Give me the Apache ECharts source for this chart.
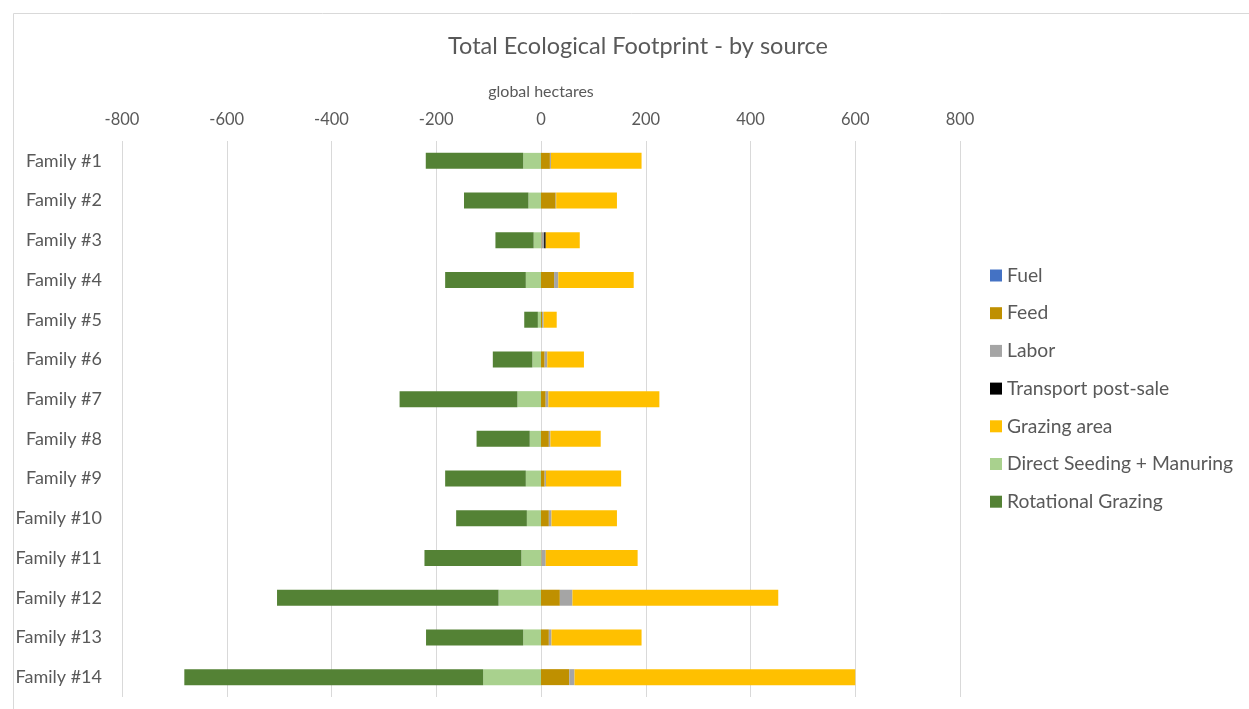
<!DOCTYPE html>
<html>
<head>
<meta charset="utf-8">
<script src="https://cdn.jsdelivr.net/npm/echarts@6/dist/echarts.min.js"></script>
<style>
  html, body { margin: 0; padding: 0; background: #fff; }
  #chart { width: 1249px; height: 709px; }
</style>
</head>
<body>
<div id="chart"></div>
<script>
// categories (top to bottom)
const families = ['Family #1', 'Family #2', 'Family #3', 'Family #4', 'Family #5', 'Family #6', 'Family #7',
  'Family #8', 'Family #9', 'Family #10', 'Family #11', 'Family #12', 'Family #13', 'Family #14']

// positive sources, global hectares
const fuel = [0, 0, 0, 0, 0, 0, 0, 0, 0, 0, 0, 0, 0, 0]
const feed = [17, 28, 1, 25, 2, 7, 9, 15, 7, 15, 1, 36, 15, 54]
const labor = [2, 1, 5, 8, 3, 5, 5, 3, 2.5, 5, 8, 24, 5, 10]
const transport = [0, 0, 3, 0, 0, 0, 0, 0, 0, 0, 0, 0, 0, 0]
const grazingArea = [173, 116, 65, 144, 25, 70, 212, 96, 143.5, 125, 175.5, 393, 172, 536]

// negative sources (sequestration)
const directSeeding = [-34, -24, -14, -29, -6, -16.5, -45, -21.5, -29, -27, -37.5, -81, -34, -110.5]
const rotationalGrazing = [-186, -123, -73, -154, -26, -75.5, -225, -101.5, -154, -135, -185, -423, -185.5, -570.5]

const xTicks = { min: -800, max: 800, interval: 200 }

const chart = echarts.init(document.getElementById('chart'))

const txt = '#595959'
const font = 'Lato, "Open Sans", sans-serif'

function bar(name, data, color) {
  return {
    name: name,
    type: 'bar',
    stack: 'total',
    data: data,
    barWidth: 16,
    itemStyle: { color: color },
    emphasis: { disabled: true }
  }
}

chart.setOption({
  animation: false,
  textStyle: { fontFamily: font },
  title: {
    text: 'Total Ecological Footprint - by source',
    left: 633,
    textAlign: 'center',
    top: 29,
    textStyle: { fontSize: 23.5, fontWeight: 'normal', color: txt, fontFamily: font }
  },
  graphic: [{
    type: 'rect',
    shape: { x: 13.5, y: 13.5, width: 1260, height: 720 },
    style: { fill: 'none', stroke: '#d9d9d9', lineWidth: 1 },
    silent: true
  }],
  legend: {
    orient: 'vertical',
    left: 985,
    top: 260,
    itemWidth: 12,
    itemHeight: 12,
    itemGap: 16.7,
    icon: 'rect',
    textStyle: { fontSize: 19.3, color: txt, fontFamily: font, lineHeight: 21 },
    data: ['Fuel', 'Feed', 'Labor', 'Transport post-sale', 'Grazing area', 'Direct Seeding + Manuring', 'Rotational Grazing']
  },
  grid: { left: 122, right: 289, top: 141, bottom: 12 },
  xAxis: {
    type: 'value',
    position: 'top',
    min: xTicks.min,
    max: xTicks.max,
    interval: xTicks.interval,
    name: 'global hectares',
    nameLocation: 'middle',
    nameGap: 41,
    nameTextStyle: { fontSize: 16, color: txt, fontFamily: font },
    axisLine: { show: false },
    axisTick: { show: false },
    axisLabel: { fontSize: 16.5, color: txt, margin: 13, fontFamily: font },
    splitLine: { lineStyle: { color: '#d9d9d9', width: 1 } }
  },
  yAxis: {
    type: 'category',
    inverse: true,
    data: families,
    axisLine: { show: false },
    axisTick: { show: false },
    axisLabel: { fontSize: 18, color: txt, margin: 20, fontFamily: font }
  },
  series: [
    bar('Fuel', fuel, '#4472c4'),
    bar('Feed', feed, '#bf9000'),
    bar('Labor', labor, '#a5a5a5'),
    bar('Transport post-sale', transport, '#000000'),
    bar('Grazing area', grazingArea, '#ffc000'),
    bar('Direct Seeding + Manuring', directSeeding, '#a9d18e'),
    bar('Rotational Grazing', rotationalGrazing, '#548235')
  ]
})
</script>
</body>
</html>
